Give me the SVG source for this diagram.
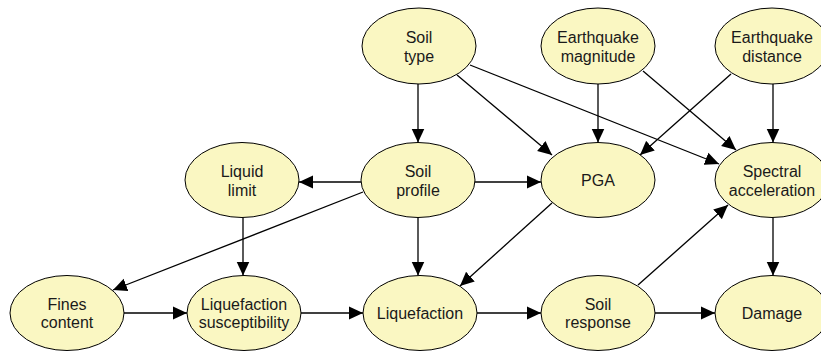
<svg xmlns="http://www.w3.org/2000/svg" width="821" height="352" viewBox="0 0 821 352">
<style>
.node ellipse{fill:#FAF7C2;stroke:#000;stroke-width:1}
.node text{font-family:"Liberation Sans",Arial,sans-serif;font-size:16px;fill:#1a1a1a;text-anchor:middle}
.edges line{stroke:#000;stroke-width:1.3;marker-end:url(#arr)}
</style>
<defs>
<marker id="arr" markerUnits="userSpaceOnUse" markerWidth="14" markerHeight="14" viewBox="0 0 14 13" refX="14" refY="6.5" orient="auto">
<path d="M0,0 L14,6.5 L0,13 z" fill="#000"/>
</marker>
</defs>
<rect width="821" height="352" fill="#fff"/>
<g class="edges" id="connectors">
<line x1="418" y1="84" x2="418" y2="142.5"/>
<line x1="457" y1="75" x2="552" y2="155"/>
<line x1="470" y1="65" x2="719" y2="164"/>
<line x1="598" y1="84" x2="598" y2="142.5"/>
<line x1="643" y1="71" x2="736" y2="150"/>
<line x1="731" y1="74" x2="640" y2="155"/>
<line x1="773" y1="84" x2="773" y2="142.5"/>
<line x1="361" y1="182" x2="299" y2="182"/>
<line x1="475" y1="182" x2="541" y2="182"/>
<line x1="363" y1="192" x2="113" y2="290"/>
<line x1="418" y1="217.5" x2="418" y2="275.5"/>
<line x1="243" y1="217.5" x2="243" y2="275.5"/>
<line x1="552" y1="203" x2="460" y2="286"/>
<line x1="638" y1="285" x2="728" y2="205"/>
<line x1="773" y1="217.5" x2="773" y2="275.5"/>
<line x1="124" y1="313" x2="187" y2="313"/>
<line x1="301" y1="313" x2="363" y2="313"/>
<line x1="477" y1="313" x2="541" y2="313"/>
<line x1="655" y1="313" x2="715" y2="313"/>
</g>
<g class="node" id="soil-type"><ellipse cx="419" cy="46" rx="57" ry="38"/><text x="419" y="43">Soil</text><text x="419" y="62">type</text></g>
<g class="node" id="earthquake-magnitude"><ellipse cx="598" cy="46" rx="57" ry="38"/><text x="598" y="43">Earthquake</text><text x="598" y="62">magnitude</text></g>
<g class="node" id="earthquake-distance"><ellipse cx="772" cy="46" rx="57" ry="38"/><text x="772" y="43">Earthquake</text><text x="772" y="62">distance</text></g>
<g class="node" id="liquid-limit"><ellipse cx="242" cy="180" rx="57" ry="37.5"/><text x="242" y="177">Liquid</text><text x="242" y="196">limit</text></g>
<g class="node" id="soil-profile"><ellipse cx="418" cy="180" rx="57" ry="37.5"/><text x="418" y="177">Soil</text><text x="418" y="196">profile</text></g>
<g class="node" id="pga"><ellipse cx="598" cy="180" rx="57" ry="37.5"/><text x="598" y="186">PGA</text></g>
<g class="node" id="spectral-acceleration"><ellipse cx="772" cy="180" rx="57" ry="37.5"/><text x="772" y="177">Spectral</text><text x="772" y="196">acceleration</text></g>
<g class="node" id="fines-content"><ellipse cx="67" cy="313" rx="57" ry="37.5"/><text x="67" y="310">Fines</text><text x="67" y="328">content</text></g>
<g class="node" id="liquefaction-susceptibility"><ellipse cx="244" cy="313" rx="57" ry="37.5"/><text x="244" y="310">Liquefaction</text><text x="244" y="328">susceptibility</text></g>
<g class="node" id="liquefaction"><ellipse cx="420" cy="313" rx="57" ry="37.5"/><text x="420" y="319">Liquefaction</text></g>
<g class="node" id="soil-response"><ellipse cx="598" cy="313" rx="57" ry="37.5"/><text x="598" y="310">Soil</text><text x="598" y="328">response</text></g>
<g class="node" id="damage"><ellipse cx="772" cy="313" rx="57" ry="37.5"/><text x="772" y="319">Damage</text></g>
</svg>
